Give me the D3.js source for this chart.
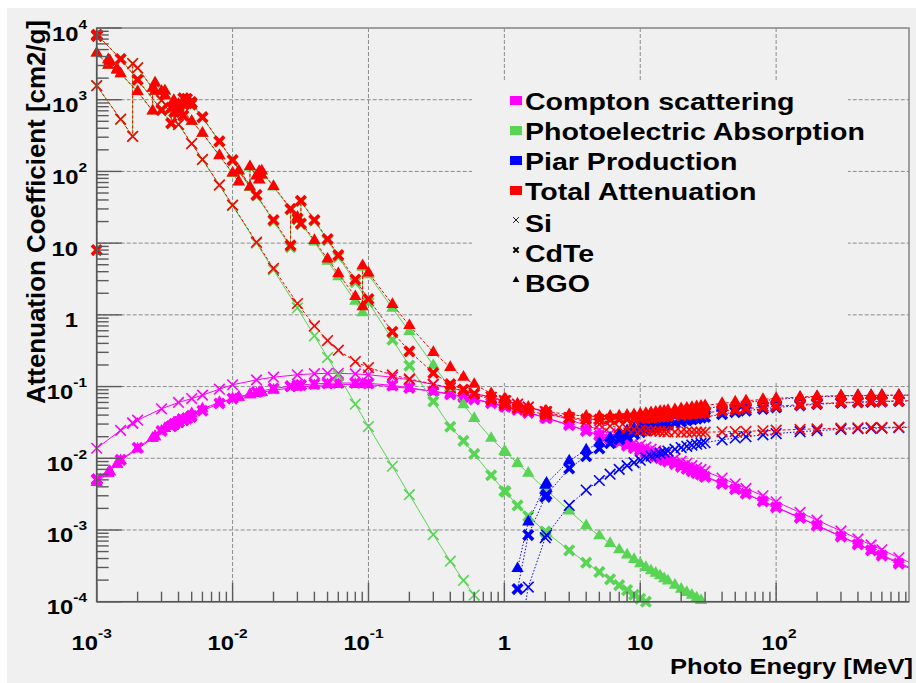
<!DOCTYPE html>
<html>
<head>
<meta charset="utf-8">
<script src="https://cdn.jsdelivr.net/npm/d3@7"></script>
<style>
  html, body { margin: 0; padding: 0; background: #ffffff; }
  svg { display: block; }
  text { font-family: "Liberation Sans", Arial, Helvetica, sans-serif; font-weight: bold; fill: #000; }
</style>
</head>
<body>
<svg id="chart" width="916" height="683"></svg>
<script>
// ---------------------------------------------------------------
// Mass attenuation coefficients [cm2/g] vs photon energy [MeV]
// ---------------------------------------------------------------

// Si
const siEnergy = [0.001, 0.0015, 0.001839, 0.001839, 0.002, 0.003, 0.004, 0.005, 0.006, 0.008,
  0.01, 0.015, 0.02, 0.03, 0.04, 0.05, 0.06, 0.08, 0.1, 0.15,
  0.2, 0.3, 0.4, 0.5, 0.6, 0.8, 1, 1.022, 1.25, 1.5,
  2, 2.044, 3, 4, 5, 6, 7, 8, 9, 10,
  11, 12, 13, 14, 15, 16, 18, 20, 22, 24,
  26, 28, 30, 40, 50, 60, 80, 100, 150, 200,
  300, 400, 500, 600, 800, 1000];
const siCompton = [0.0138, 0.0245, 0.031, 0.031, 0.034, 0.049, 0.060, 0.068, 0.076, 0.092,
  0.106, 0.124, 0.135, 0.146, 0.151, 0.153, 0.153, 0.150, 0.146, 0.135,
  0.124, 0.107, 0.0955, 0.0870, 0.0804, 0.0706, 0.0634, 0.0627, 0.0566, 0.0515,
  0.0439, 0.0434, 0.0345, 0.0288, 0.0249, 0.0220, 0.0198, 0.0180, 0.0165, 0.0153,
  0.0143, 0.0134, 0.0127, 0.0120, 0.0114, 0.0108, 0.0099, 0.0091, 0.0085, 0.0079,
  0.0074, 0.0070, 0.0066, 0.0053, 0.0044, 0.0038, 0.0030, 0.00247, 0.00176, 0.00137,
  0.00097, 0.00075, 0.00062, 0.00053, 0.00041, 0.00034];
const siPhoto = [1567, 533, 307, 3190, 2774, 976, 451, 244, 146, 64.1,
  33.4, 10.0, 4.22, 1.25, 0.51, 0.254, 0.143, 0.0567, 0.0277, 0.00774,
  0.00311, 0.000864, 0.000367, 0.000198, 0.000124, 0.0000625, 0.0000386];
const siTotal = [1570, 535, 309, 3192, 2777, 978, 453, 245, 147, 64.7,
  33.9, 10.3, 4.46, 1.44, 0.701, 0.438, 0.321, 0.223, 0.184, 0.145,
  0.128, 0.108, 0.0961, 0.0875, 0.0808, 0.0708, 0.0636, 0.0629, 0.0569, 0.0518,
  0.0448, 0.0443, 0.0368, 0.0324, 0.0298, 0.0280, 0.0268, 0.0259, 0.0252, 0.0247,
  0.0244, 0.0241, 0.0239, 0.0237, 0.0236, 0.0234, 0.0233, 0.0232, 0.0232, 0.0231,
  0.0231, 0.0231, 0.0231, 0.0234, 0.0236, 0.0238, 0.0242, 0.0246, 0.0253, 0.0257,
  0.0263, 0.0266, 0.0268, 0.0269, 0.0272, 0.0273];

// CdTe
const cdteEnergy = [0.001, 0.001, 0.001006, 0.001006, 0.0015, 0.002, 0.003, 0.003538, 0.003538, 0.003727,
  0.003727, 0.004, 0.004018, 0.004018, 0.004341, 0.004341, 0.004612, 0.004612, 0.004939, 0.004939,
  0.005, 0.006, 0.008, 0.01, 0.015, 0.02, 0.02671, 0.02671, 0.03, 0.03181,
  0.03181, 0.04, 0.05, 0.06, 0.08, 0.1, 0.15, 0.2, 0.3, 0.4,
  0.5, 0.6, 0.8, 1, 1.022, 1.25, 1.5, 2, 2.044, 3,
  4, 5, 6, 7, 8, 9, 10, 11, 12, 13,
  14, 15, 16, 18, 20, 22, 24, 26, 28, 30,
  40, 50, 60, 80, 100, 150, 200, 300, 400, 500,
  600, 800, 1000];
const cdteCompton = [null, 0.0050, 0.0051, 0.0051, 0.0095, 0.0140, 0.024, 0.028, 0.028, 0.030,
  0.030, 0.032, 0.032, 0.032, 0.034, 0.034, 0.036, 0.036, 0.038, 0.038,
  0.039, 0.046, 0.058, 0.068, 0.084, 0.094, 0.101, 0.101, 0.104, 0.105,
  0.105, 0.109, 0.111, 0.112, 0.112, 0.111, 0.104, 0.096, 0.0857, 0.0775,
  0.0712, 0.0662, 0.0585, 0.0527, 0.0522, 0.0472, 0.0430, 0.0367, 0.0362, 0.0289,
  0.0241, 0.0208, 0.0184, 0.0166, 0.0150, 0.0138, 0.0128, 0.0120, 0.0112, 0.0106,
  0.0100, 0.0095, 0.0090, 0.0083, 0.0076, 0.0071, 0.0066, 0.0062, 0.0059, 0.0055,
  0.0044, 0.0037, 0.0032, 0.0025, 0.00207, 0.00147, 0.00115, 0.00081, 0.00063, 0.00052,
  0.00044, 0.00034, 0.00028];
const cdtePhoto = [null, 7880, 7730, 8030, 3690, 1895, 716, 467, 771, 673,
  813, 676, 668, 729, 596, 1042, 891, 1023, 856, 920,
  900, 567, 260, 142, 46.0, 20.3, 8.8, 29.4, 21.4, 18.3,
  38.4, 20.5, 11.0, 6.45, 2.85, 1.50, 0.45, 0.196, 0.062, 0.0275,
  0.0175, 0.0115, 0.0058, 0.0035, 0.0034, 0.0022, 0.00155, 0.00095, 0.00092, 0.00052,
  0.00035, 0.00026, 0.000205, 0.00017, 0.000145, 0.000125, 0.00011, 0.0001, 0.000092, 0.000085];
const cdteTotal = [8, 7900, 7750, 8050, 3700, 1900, 720, 470, 775, 677,
  817, 680, 672, 733, 600, 1047, 895, 1028, 860, 925,
  905, 571, 263, 144, 47, 21, 9.3, 30, 22, 18.8,
  39, 21, 11.4, 6.8, 3.1, 1.66, 0.58, 0.31, 0.155, 0.108,
  0.0907, 0.0792, 0.0653, 0.0570, 0.0564, 0.0501, 0.0458, 0.0408, 0.0404, 0.0367,
  0.0352, 0.0348, 0.0348, 0.0351, 0.0353, 0.0357, 0.0361, 0.0366, 0.0369, 0.0374,
  0.0378, 0.0382, 0.0386, 0.0395, 0.0402, 0.0409, 0.0415, 0.0421, 0.0426, 0.0431,
  0.0457, 0.0477, 0.0492, 0.0514, 0.0531, 0.0560, 0.0578, 0.0598, 0.0609, 0.0617,
  0.0622, 0.0630, 0.0635];

// BGO
const bgoEnergy = [0.001, 0.001217, 0.001217, 0.001248, 0.001248, 0.001414, 0.001414, 0.0015, 0.002, 0.00258,
  0.00258, 0.002688, 0.002688, 0.003, 0.003177, 0.003177, 0.003696, 0.003696, 0.003999, 0.003999,
  0.004, 0.005, 0.006, 0.008, 0.01, 0.0111, 0.0111, 0.01342, 0.01342, 0.015,
  0.01571, 0.01571, 0.01639, 0.01639, 0.02, 0.03, 0.04, 0.05, 0.06, 0.08,
  0.09053, 0.09053, 0.1, 0.15, 0.2, 0.3, 0.4, 0.5, 0.6, 0.8,
  1, 1.022, 1.25, 1.5, 2, 2.044, 3, 4, 5, 6,
  7, 8, 9, 10, 11, 12, 13, 14, 15, 16,
  18, 20, 22, 24, 26, 28, 30, 40, 50, 60,
  80, 100, 150, 200, 300, 400, 500, 600, 800, 1000];
const bgoCompton = [0.0046, 0.0062, 0.0062, 0.0065, 0.0065, 0.0083, 0.0083, 0.0093, 0.0135, 0.019,
  0.019, 0.020, 0.020, 0.024, 0.026, 0.026, 0.031, 0.031, 0.034, 0.034,
  0.034, 0.042, 0.049, 0.060, 0.068, 0.071, 0.071, 0.077, 0.077, 0.080,
  0.082, 0.082, 0.083, 0.083, 0.089, 0.098, 0.103, 0.106, 0.107, 0.107,
  0.107, 0.107, 0.106, 0.100, 0.094, 0.086, 0.0795, 0.0728, 0.0675, 0.0593,
  0.0535, 0.0530, 0.0478, 0.0435, 0.0371, 0.0366, 0.0292, 0.0243, 0.0210, 0.0186,
  0.0167, 0.0152, 0.0140, 0.0129, 0.0121, 0.0114, 0.0107, 0.0102, 0.0096, 0.0092,
  0.0084, 0.0077, 0.0071, 0.0067, 0.0063, 0.0059, 0.0056, 0.0045, 0.0037, 0.0032,
  0.0025, 0.00209, 0.00149, 0.00116, 0.00082, 0.00064, 0.00052, 0.00045, 0.00035, 0.00029];
const bgoPhoto = [4470, 3030, 3600, 3390, 3490, 2590, 2650, 2300, 1295, 697,
  1445, 1305, 1715, 1305, 1130, 1325, 896, 970, 791, 851,
  851, 497, 339, 165, 93.5, 70.8, 100.5, 60, 115, 85.5,
  75.7, 98.3, 87.5, 100.3, 60.8, 22.3, 10.4, 5.6, 3.4, 1.55,
  1.07, 4.62, 3.63, 1.24, 0.585, 0.198, 0.097, 0.056, 0.036, 0.019,
  0.0125, 0.0121, 0.0085, 0.0062, 0.0037, 0.0036, 0.00185, 0.00115, 0.00083, 0.00065,
  0.00053, 0.00045, 0.00039, 0.00034, 0.00030, 0.00027, 0.00025, 0.00023, 0.00021, 0.000195,
  0.00017, 0.00015, 0.000135, 0.000123, 0.000113, 0.000104, 0.000097, 0.000072];
const bgoTotal = [4480, 3040, 3610, 3400, 3500, 2600, 2660, 2310, 1300, 700,
  1450, 1310, 1720, 1310, 1135, 1330, 900, 975, 795, 855,
  855, 500, 342, 167, 95, 72, 102, 61, 117, 87,
  77, 100, 89, 102, 62, 23, 10.9, 6.0, 3.75, 1.8,
  1.3, 4.85, 3.85, 1.40, 0.71, 0.300, 0.185, 0.135, 0.1075, 0.080,
  0.0672, 0.0663, 0.0574, 0.0516, 0.0453, 0.0450, 0.0405, 0.0387, 0.0383, 0.0386,
  0.0391, 0.0399, 0.0407, 0.0416, 0.0424, 0.0433, 0.0441, 0.0449, 0.0456, 0.0464,
  0.0478, 0.0491, 0.0502, 0.0514, 0.0524, 0.0534, 0.0544, 0.0583, 0.0611, 0.0633,
  0.0663, 0.0683, 0.0715, 0.0732, 0.0746, 0.0752, 0.0755, 0.0758, 0.0760, 0.0761];

// Pair production (above threshold), common energy grid
const pairEnergy = [1.25, 1.5, 2, 2.044, 3, 4, 5, 6, 7, 8,
  9, 10, 11, 12, 13, 14, 15, 16, 18, 20,
  22, 24, 26, 28, 30, 40, 50, 60, 80, 100,
  150, 200, 300, 400, 500, 600, 800, 1000];
const siPair = [0.000022, 0.00016, 0.00078, 0.00085, 0.0022, 0.0036, 0.0049, 0.0060, 0.0070, 0.0079,
  0.0087, 0.0094, 0.0101, 0.0107, 0.0112, 0.0117, 0.0122, 0.0126, 0.0134, 0.0141,
  0.0147, 0.0152, 0.0157, 0.0161, 0.0165, 0.0181, 0.0192, 0.0200, 0.0212, 0.0221,
  0.0235, 0.0243, 0.0253, 0.0258, 0.0262, 0.0264, 0.0268, 0.0270];
const cdtePair = [0.00015, 0.00085, 0.0029, 0.0031, 0.0072, 0.0107, 0.0137, 0.0162, 0.0183, 0.0202,
  0.0218, 0.0232, 0.0245, 0.0256, 0.0267, 0.0277, 0.0286, 0.0295, 0.0311, 0.0325,
  0.0337, 0.0348, 0.0358, 0.0367, 0.0376, 0.0413, 0.0440, 0.0460, 0.0489, 0.0510,
  0.0545, 0.0566, 0.0590, 0.0603, 0.0612, 0.0618, 0.0627, 0.0632];
const bgoPair = [0.00029, 0.0013, 0.0042, 0.0045, 0.0092, 0.0131, 0.0164, 0.0193, 0.0219, 0.0242,
  0.0263, 0.0283, 0.0300, 0.0316, 0.0331, 0.0345, 0.0358, 0.0370, 0.0392, 0.0412,
  0.0430, 0.0446, 0.0460, 0.0474, 0.0487, 0.0537, 0.0574, 0.0601, 0.0638, 0.0662,
  0.0700, 0.0720, 0.0738, 0.0746, 0.0750, 0.0753, 0.0756, 0.0758];

// Axes
const xDomain = [1e-3, 950];
const yDomain = [1e-4, 1e4];
const xTickValues = [1e-3, 1e-2, 1e-1, 1, 10, 100];
const xTickBase   = ["10", "10", "10", "1", "10", "10"];
const xTickSup    = ["-3", "-2", "-1", "", "", "2"];
const yTickValues = [1e4, 1e3, 1e2, 10, 1, 1e-1, 1e-2, 1e-3, 1e-4];
const yTickBase   = ["10", "10", "10", "10", "1", "10", "10", "10", "10"];
const yTickSup    = ["4", "3", "2", "", "", "-1", "-2", "-3", "-4"];
const xTitle = "Photo Enegry [MeV]";
const yTitle = "Attenuation Coefficient [cm2/g]";

// Legend (process entries in listed order, then materials)
const legendProcessKeys = ["compton", "photo", "pair", "total"];
const legendProcessLabels = ["Compton scattering", "Photoelectric Absorption", "Piar Production", "Total Attenuation"];
const legendMaterialLabels = ["Si", "CdTe", "BGO"];

// ---------------------------------------------------------------
const W = 916, H = 683;
const plot = { left: 96.7, right: 909, top: 28, bottom: 601.7 };
const SX = 1.19;              // horizontal text stretch
const canvasColor = "#f0f0f0";

// drawing order: compton, photo, pair, total
const processes = [
  { key: "compton", color: "#ff00ff", dash: null },
  { key: "photo",   color: "#59d454", dash: null },
  { key: "pair",    color: "#0000ff", dash: "1.5,1.8" },
  { key: "total",   color: "#ff0000", dash: "3,2" }
];
const colorOf = Object.fromEntries(processes.map(p => [p.key, p.color]));
const materials = [
  { name: "Si",   marker: "x",     energy: siEnergy,   compton: siCompton,   photo: siPhoto,   total: siTotal,   pair: siPair },
  { name: "CdTe", marker: "xbold", energy: cdteEnergy, compton: cdteCompton, photo: cdtePhoto, total: cdteTotal, pair: cdtePair },
  { name: "BGO",  marker: "tri",   energy: bgoEnergy,  compton: bgoCompton,  photo: bgoPhoto,  total: bgoTotal,  pair: bgoPair }
];

const svg = d3.select("#chart");
const x = d3.scaleLog().domain(xDomain).range([plot.left, plot.right]);
const y = d3.scaleLog().domain(yDomain).range([plot.bottom, plot.top]);

// canvas
svg.append("rect").attr("x", 0).attr("y", 0).attr("width", W).attr("height", H).attr("fill", "#ffffff");
svg.append("rect").attr("x", 7).attr("y", 8).attr("width", W - 7).attr("height", H - 8).attr("fill", canvasColor);

const isDecade = v => Math.abs(Math.log10(v) - Math.round(Math.log10(v))) < 1e-9;

// grid at decades
const grid = svg.append("g").attr("stroke", "#8c8c8c").attr("stroke-width", 1).attr("stroke-dasharray", "4,2");
x.ticks().filter(isDecade).filter(v => v > xDomain[0] * 1.0001 && v < xDomain[1]).forEach(v => {
  grid.append("line").attr("x1", x(v)).attr("x2", x(v)).attr("y1", plot.top).attr("y2", plot.bottom);
});
y.ticks().filter(isDecade).filter(v => v > yDomain[0] * 1.0001 && v < yDomain[1] * 0.9999).forEach(v => {
  grid.append("line").attr("x1", plot.left).attr("x2", plot.right).attr("y1", y(v)).attr("y2", y(v));
});

// legend pad (covers the grid behind the entries)
svg.append("rect").attr("x", 472).attr("y", 82).attr("width", 376).attr("height", 301).attr("fill", canvasColor);

// data
svg.append("clipPath").attr("id", "plotClip").append("rect")
  .attr("x", plot.left).attr("y", plot.top)
  .attr("width", plot.right - plot.left).attr("height", plot.bottom - plot.top);

function markerPath(kind, cx, cy, k) {
  if (kind === "x") {
    const s = 5.3 * k;
    return `M${cx - s},${cy - s}L${cx + s},${cy + s}M${cx - s},${cy + s}L${cx + s},${cy - s}`;
  }
  if (kind === "xbold") {
    const a = 1.8 * k, L = 6.8 * k;
    const pts = [[a, -L], [a, -a], [L, -a], [L, a], [a, a], [a, L], [-a, L], [-a, a], [-L, a], [-L, -a], [-a, -a], [-a, -L]];
    return "M" + pts.map(([px, py]) => [cx + (px - py) / Math.SQRT2, cy + (px + py) / Math.SQRT2].join(",")).join("L") + "Z";
  }
  const sym = d3.symbol().type(d3.symbolTriangle).size(66 * k * k)();
  return sym.replace(/-?\d*\.?\d+(e-?\d+)?,-?\d*\.?\d+(e-?\d+)?/g, m => {
    const [px, py] = m.split(",").map(Number);
    return (cx + px) + "," + (cy + py);
  });
}

function drawMarker(g, kind, cx, cy, color, k) {
  const p = g.append("path").attr("d", markerPath(kind, cx, cy, k));
  if (kind === "x") p.attr("fill", "none").attr("stroke", color).attr("stroke-width", 1.6 * k);
  else p.attr("fill", color).attr("stroke", "none");
}

const line = d3.line().x(d => x(d[0])).y(d => y(d[1]));
const dataLayer = svg.append("g");

processes.forEach(proc => {
  materials.forEach(mat => {
    const values = mat[proc.key];
    const energies = proc.key === "pair" ? pairEnergy : mat.energy;
    const pts = values.map((v, i) => [energies[i], v]).filter(d => d[1] != null);
    dataLayer.append("path")
      .attr("d", line(pts))
      .attr("clip-path", "url(#plotClip)")
      .attr("fill", "none")
      .attr("stroke", proc.color)
      .attr("stroke-width", 1)
      .attr("stroke-dasharray", proc.dash);
    const g = dataLayer.append("g");
    pts.filter(d => d[0] >= xDomain[0] && d[0] <= xDomain[1] && d[1] >= yDomain[0] && d[1] <= yDomain[1])
      .forEach(d => drawMarker(g, mat.marker, x(d[0]), y(d[1]), proc.color, 1));
  });
});

// frame
svg.append("rect").attr("x", plot.left).attr("y", plot.top)
  .attr("width", plot.right - plot.left).attr("height", plot.bottom - plot.top)
  .attr("fill", "none").attr("stroke", "#8a8a8a").attr("stroke-width", 1.6);
svg.append("line").attr("x1", plot.left).attr("x2", plot.left).attr("y1", plot.top).attr("y2", plot.bottom)
  .attr("stroke", "#555").attr("stroke-width", 1.5);
svg.append("line").attr("x1", plot.left).attr("x2", plot.right).attr("y1", plot.bottom).attr("y2", plot.bottom)
  .attr("stroke", "#555").attr("stroke-width", 1.5);

// ticks
const ticks = svg.append("g").attr("stroke", "#5a5a5a").attr("stroke-width", 1.4);
x.ticks().filter(v => v >= xDomain[0] && v <= xDomain[1]).forEach(v => {
  const len = isDecade(v) ? 19 : 10;
  ticks.append("line").attr("x1", x(v)).attr("x2", x(v)).attr("y1", plot.bottom).attr("y2", plot.bottom - len);
});
y.ticks().filter(v => v >= yDomain[0] && v <= yDomain[1]).forEach(v => {
  const len = isDecade(v) ? 25 : 12;
  ticks.append("line").attr("x1", plot.left).attr("x2", plot.left + len).attr("y1", y(v)).attr("y2", y(v));
});

// tick labels
function powerLabel(parent, px, py, base, sup, anchor) {
  const g = parent.append("g").attr("transform", `translate(${px},${py}) scale(${SX},1)`);
  const t = g.append("text").attr("text-anchor", anchor).attr("font-size", 20).text(base);
  if (sup) t.append("tspan").attr("font-size", 13).attr("dy", -12).text(sup);
}
const labels = svg.append("g");
xTickValues.forEach((v, i) => {
  const sup = xTickSup[i];
  const off = sup.startsWith("-") ? -5 : (sup ? 3 : 0);
  powerLabel(labels, x(v) + off, 650, xTickBase[i], sup, "middle");
});
yTickValues.forEach((v, i) => {
  const sup = yTickSup[i];
  powerLabel(labels, sup ? 87 : 78, y(v) + 12.5, yTickBase[i], sup, "end");
});

// axis titles
svg.append("text").attr("x", 670).attr("y", 674).attr("font-size", 22)
  .attr("textLength", 243).attr("lengthAdjust", "spacingAndGlyphs").text(xTitle);
svg.append("g").attr("transform", `translate(45,404) scale(${SX},1) rotate(-90)`)
  .append("text").attr("x", 0).attr("y", 0).attr("font-size", 21)
  .attr("textLength", 384).attr("lengthAdjust", "spacingAndGlyphs").text(yTitle);

// legend entries
const legend = svg.append("g");
const legendTextX = 525, legendMarkX = 516;
legendProcessLabels.forEach((label, i) => {
  const base = 110 + 30 * i;
  legend.append("rect").attr("x", legendMarkX - 6).attr("y", base - 14).attr("width", 12).attr("height", 9)
    .attr("fill", colorOf[legendProcessKeys[i]]);
  legend.append("g").attr("transform", `translate(${legendTextX},${base}) scale(${SX},1)`)
    .append("text").attr("font-size", 24).text(label);
});
legendMaterialLabels.forEach((label, i) => {
  const base = 232 + 30 * i;
  drawMarker(legend, materials[i].marker, legendMarkX, base - 12, "#000", 0.55);
  legend.append("g").attr("transform", `translate(${legendTextX},${base}) scale(${SX},1)`)
    .append("text").attr("font-size", 24).text(label);
});
</script>
</body>
</html>
